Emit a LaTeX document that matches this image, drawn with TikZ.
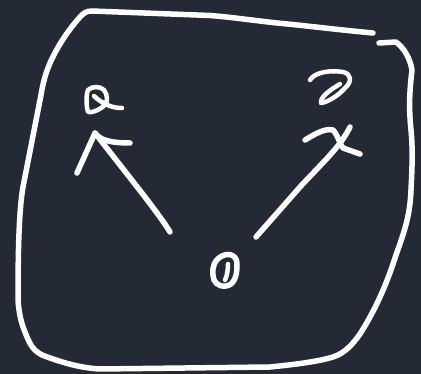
\documentclass[tikz,border=0pt]{standalone}
\definecolor{bg}{RGB}{35,42,54}
\tikzset{
  ink/.style={draw=white, line width=5.5pt, line cap=round, line join=round},
  inkthin/.style={draw=white, line width=4.5pt, line cap=round, line join=round}
}
\begin{document}
\begin{tikzpicture}[x=1pt,y=-1pt]
\fill[bg] (0,0) rectangle (421,374);
\useasboundingbox (0,0) rectangle (421,374);
% outer frame (hand drawn)
\draw[ink] (373,33) .. controls (340,30) and (300,25) .. (277,23)
  .. controls (250,20) and (230,17) .. (210,15.5)
  -- (92,11) .. controls (86,11) and (84,13) .. (80,17)
  .. controls (70,28) and (58,45) .. (50,63)
  .. controls (45,75) and (43,83) .. (41,95)
  -- (23,187) .. controls (19,210) and (18,250) .. (18,300)
  .. controls (19,315) and (22,325) .. (25,332)
  .. controls (30,345) and (33,350) .. (42,355)
  .. controls (60,362) and (80,368) .. (100,369)
  -- (270,367) .. controls (300,364) and (320,361) .. (333,357)
  .. controls (345,353) and (352,345) .. (360,334)
  .. controls (372,315) and (385,290) .. (396,255)
  .. controls (405,230) and (410,215) .. (411,190)
  .. controls (412,170) and (413,150) .. (411,130)
  .. controls (409,110) and (409,95) .. (412,70)
  .. controls (410,58) and (404,48) .. (396,42)
  -- (379,43);
% left arrow
\coordinate (o1) at (170,232);
\coordinate (a1) at (95,133);
\draw[ink] (o1) .. controls (160,215) and (130,178) .. (a1);
\draw[ink] (77,173) -- (a1) .. controls (100,140) and (110,143) .. (130,143);
% label a
\draw[inkthin] (94,96) .. controls (98,100) and (103,103) .. (106,104)
  .. controls (100,110) and (92,113) .. (88,112)
  .. controls (86,105) and (86,95) .. (88,90)
  .. controls (92,86) and (100,86) .. (104,90)
  .. controls (108,95) and (107,101) .. (106,104)
  .. controls (110,107) and (117,108) .. (122,108);
% right arrow
\coordinate (o2) at (256,237);
\coordinate (b1) at (350,127);
\draw[ink] (o2) -- (300,187) .. controls (325,160) and (340,147) .. (b1);
\draw[ink] (305,140) .. controls (315,134) and (325,128) .. (333,130)
  .. controls (338,135) and (340,145) .. (343,148) -- (360,154);
% label (curl)
\draw[inkthin] (310,80) .. controls (315,72) and (330,70) .. (343,72)
  .. controls (352,74) and (352,82) .. (345,88)
  .. controls (338,96) and (328,102) .. (321,103)
  .. controls (320,97) and (330,90) .. (340,84);
% origin 0
\draw[ink] (222,256) .. controls (230,252) and (238,256) .. (237,266)
  .. controls (237,276) and (234,285) .. (226,286)
  .. controls (218,287) and (213,282) .. (213,275)
  .. controls (212,268) and (214,260) .. (222,256);
\draw[inkthin] (228,264) .. controls (228,270) and (227,276) .. (225,280);
\end{tikzpicture}
\end{document}
